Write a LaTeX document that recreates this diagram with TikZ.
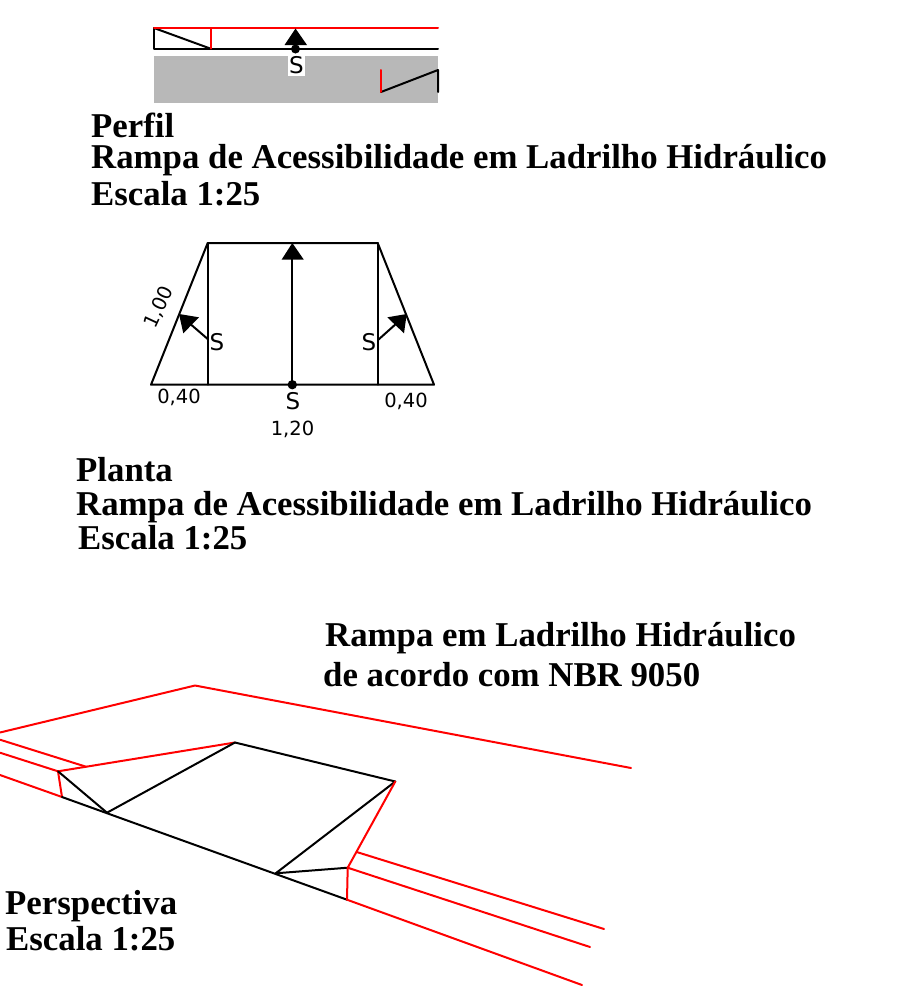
\documentclass[tikz,border=0pt]{standalone}
\usepackage{fontspec}
\setmainfont{Liberation Serif}
\newfontfamily\cadfont{DejaVu Sans}
\definecolor{cadred}{RGB}{255,0,0}
\definecolor{cadgray}{RGB}{184,184,184}
\tikzset{
  bk/.style={black,line width=2pt,line cap=round,line join=round},
  rd/.style={cadred,line width=2pt,line cap=round,line join=round},
  title/.style={anchor=base west,inner sep=0pt,font=\fontsize{34.8}{35}\selectfont\bfseries},
  cad/.style={inner sep=0pt,font=\cadfont\fontsize{19.5}{20}\selectfont},
  cads/.style={inner sep=0pt,font=\cadfont\fontsize{23}{24}\selectfont},
}
\begin{document}
\begin{tikzpicture}[x=1pt,y=-1pt]
\useasboundingbox (0,0) rectangle (897,988);
% Perfil
\fill[cadgray] (153.5,56) rectangle (438,102.5);
\draw[bk] (154,28) -- (154,48.7) -- (438,48.7);
\draw[bk] (154,28) -- (210.7,48.7);
\draw[rd] (154,28) -- (438,28);
\draw[rd] (210.7,28) -- (210.7,48.7);
\fill (284.5,45) -- (295.5,28.5) -- (307,45) -- cycle;
\draw[bk] (295.5,44) -- (295.5,49);
\fill (295.5,49) circle (4.5);
\node[fill=white,minimum width=17pt,minimum height=20pt,inner sep=0pt,cads] (sa) at (296.5,65.5) {S};
\draw[bk] (381,92) -- (438,70) -- (438,92);
\draw[rd] (381,70) -- (381,92);
\node[title] (t1) at (91,137) {Perfil};
\node[title] (t2) at (91,168) {Rampa de Acessibilidade em Ladrilho Hidráulico};
\node[title] (t3) at (91,205) {Escala 1:25};
% Planta
\draw[bk] (151,384.7) -- (207.7,243) -- (377.7,243) -- (434,384.7) -- cycle;
\draw[bk] (207.7,243) -- (207.7,384.7);
\draw[bk] (377.7,243) -- (377.7,384.7);
\draw[bk] (292.3,255) -- (292.3,384.7);
\fill (281.7,259.5) -- (292.3,243) -- (303.7,259.5) -- cycle;
\fill (292.3,384.7) circle (4.7);
\draw[bk] (207.7,339) -- (188,322);
\fill (179,314) -- (199,317.3) -- (183.3,333.3) -- cycle;
\draw[bk] (378,340) -- (397,323);
\fill (406.7,314) -- (387.3,317.3) -- (404,333.3) -- cycle;
\node[cads] (s1) at (217,342.5) {S};
\node[cads] (s2) at (369,342) {S};
\node[cads] (s3) at (293,401) {S};
\node[cad] (d1) at (179,397.5) {0,40};
\node[cad] (d2) at (406,401.5) {0,40};
\node[cad] (d3) at (292.5,429) {1,20};
\node[cad,rotate=65] (d4) at (159,307) {1,00};
\node[title] (t4) at (76,481) {Planta};
\node[title] (t5) at (76,515) {Rampa de Acessibilidade em Ladrilho Hidráulico};
\node[title] (t6) at (78,549) {Escala 1:25};
% Perspectiva
\draw[rd] (0,732.5) -- (195,685.5) -- (631,768);
\draw[rd] (0,739.7) -- (86,766.7);
\draw[rd] (0,752.7) -- (58,771.3);
\draw[rd] (0,775) -- (62,797);
\draw[rd] (58,771.3) -- (235,742.5);
\draw[rd] (58,771.3) -- (62,797);
\draw[bk] (235,742.5) -- (395.3,781.5);
\draw[bk] (235,742.5) -- (107,812.7);
\draw[bk] (58,771.3) -- (107,812.7);
\draw[bk] (62,797) -- (347,899.7);
\draw[bk] (395.3,781.5) -- (275.7,873.3) -- (347.7,867.7);
\draw[rd] (395.3,781.5) -- (347.7,867.7) -- (347,899.7);
\draw[rd] (356.7,852) -- (604,929);
\draw[rd] (347.7,867.7) -- (590,947);
\draw[rd] (347,899.7) -- (582,985);
\node[title] (t7) at (325,646) {Rampa em Ladrilho Hidráulico};
\node[title] (t8) at (323,686) {de acordo com NBR 9050};
\node[title] (t9) at (5,914) {Perspectiva};
\node[title] (t10) at (6,950) {Escala 1:25};
\end{tikzpicture}
\end{document}
